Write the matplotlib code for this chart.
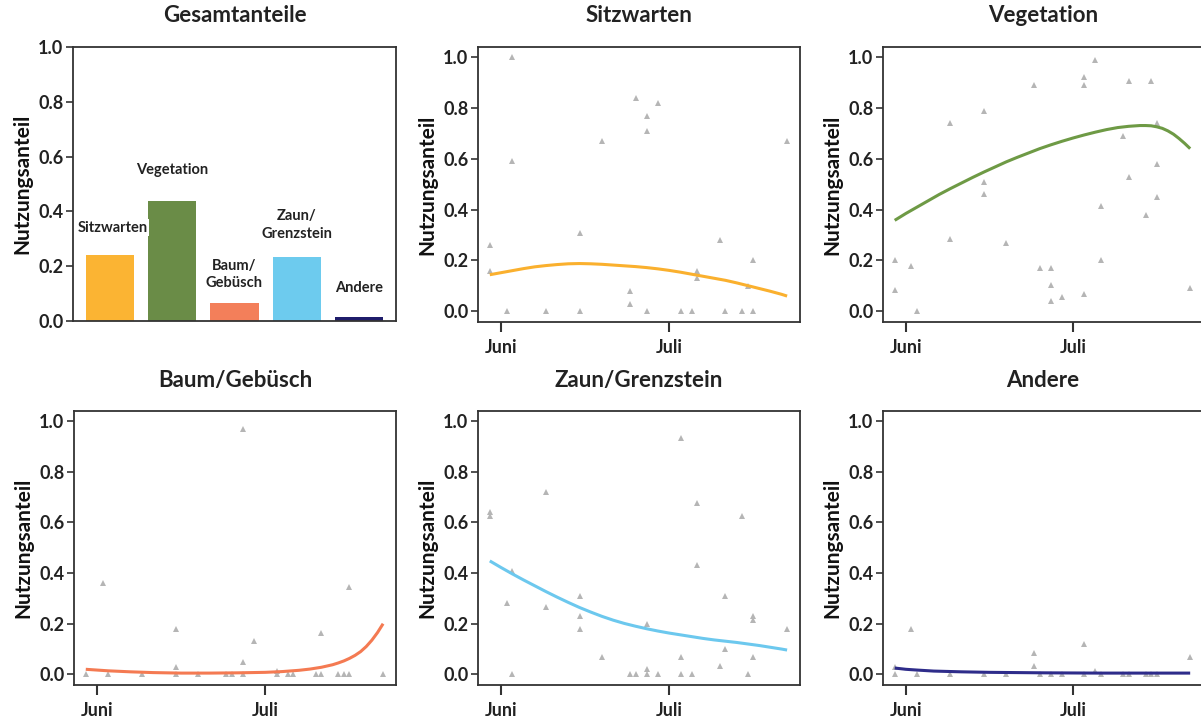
import matplotlib
matplotlib.use("Agg")
import matplotlib.pyplot as plt

plt.rcParams['font.family'] = ['Lato', 'DejaVu Sans']
plt.rcParams['font.weight'] = 'bold'

# overall shares (bar panel)
categories = ['Sitzwarten', 'Vegetation', 'Baum/\nGebüsch', 'Zaun/\nGrenzstein', 'Andere']
totals = [0.241, 0.437, 0.067, 0.235, 0.015]
label_y = [0.34, 0.55, 0.17, 0.35, 0.12]
bar_colors = ['#FBB433', '#6A8C47', '#F37F5A', '#6DCBEE', '#1F1D6B']

# observations: day relative to 1 June, share of use
sitz_x = [-2, -2, 1, 2, 2, 8, 14, 14, 18, 23, 23, 24, 26, 26, 26, 28, 32, 34, 35, 35,
          39, 40, 43, 44, 45, 45, 51]
sitz_y = [0.26, 0.16, 0.0, 1.0, 0.59, 0.0, 0.31, 0.0, 0.67, 0.08, 0.03, 0.84, 0.77, 0.71, 0.0,
          0.82, 0.0, 0.0, 0.16, 0.13, 0.28, 0.0, 0.0, 0.10, 0.20, 0.0, 0.67]
veg_x = [-2, -2, 1, 2, 8, 8, 14, 14, 14, 18, 23, 24, 26, 26, 26, 28, 32, 32, 32, 34, 35, 35,
         39, 40, 40, 43, 44, 45, 45, 45, 51]
veg_y = [0.20, 0.085, 0.18, 0.0, 0.74, 0.285, 0.79, 0.51, 0.46, 0.27, 0.89, 0.17, 0.17, 0.105,
         0.04, 0.055, 0.92, 0.89, 0.07, 0.99, 0.415, 0.20, 0.69, 0.905, 0.53, 0.38, 0.905,
         0.74, 0.58, 0.45, 0.09]
baum_x = [-2, 1, 2, 8, 14, 14, 14, 18, 23, 24, 26, 26, 26, 28, 32, 32, 34, 35, 39, 40, 40,
          43, 44, 45, 45, 51]
baum_y = [0.0, 0.36, 0.0, 0.0, 0.18, 0.03, 0.0, 0.0, 0.0, 0.0, 0.97, 0.05, 0.0, 0.13, 0.015,
          0.0, 0.0, 0.0, 0.0, 0.165, 0.0, 0.0, 0.0, 0.345, 0.0, 0.0]
zaun_x = [-2, -2, 1, 2, 2, 8, 8, 14, 14, 14, 18, 23, 24, 26, 26, 26, 28, 32, 32, 32, 34, 35,
          35, 39, 40, 40, 43, 44, 45, 45, 45, 51]
zaun_y = [0.64, 0.625, 0.28, 0.41, 0.0, 0.72, 0.265, 0.31, 0.23, 0.18, 0.067, 0.0, 0.0, 0.20,
          0.02, 0.0, 0.0, 0.935, 0.067, 0.0, 0.0, 0.675, 0.43, 0.035, 0.31, 0.10, 0.625, 0.0,
          0.23, 0.215, 0.067, 0.18]
and_x = [-2, -2, 1, 2, 8, 14, 18, 23, 23, 24, 26, 28, 32, 32, 34, 35, 39, 40, 43, 44, 45, 51]
and_y = [0.03, 0.0, 0.18, 0.0, 0.0, 0.0, 0.0, 0.085, 0.035, 0.0, 0.0, 0.0, 0.12, 0.0, 0.015,
         0.0, 0.0, 0.0, 0.0, 0.0, 0.0, 0.07]

# fitted curves
sitz_fx = [-2, 0, 2, 4, 6, 8, 10, 12, 14, 16, 18, 20, 22, 24, 26, 28, 30, 32, 34, 36, 38,
           40, 42, 44, 46, 48, 50, 51]
sitz_fy = [0.144, 0.152, 0.160, 0.168, 0.175, 0.180, 0.184, 0.187, 0.188, 0.187, 0.185,
           0.182, 0.179, 0.176, 0.172, 0.167, 0.161, 0.154, 0.146, 0.138, 0.130, 0.122,
           0.112, 0.101, 0.090, 0.079, 0.067, 0.060]
veg_fx = [-2, 0, 2, 4, 6, 8, 10, 12, 14, 16, 18, 20, 22, 24, 26, 28, 30, 32, 34, 36, 38,
          40, 42, 43, 44, 45, 46, 47, 48, 49, 50, 51]
veg_fy = [0.358, 0.385, 0.41, 0.435, 0.46, 0.483, 0.505, 0.527, 0.548, 0.568, 0.588, 0.606,
          0.623, 0.64, 0.655, 0.669, 0.682, 0.694, 0.705, 0.715, 0.723, 0.728, 0.731, 0.731,
          0.73, 0.726, 0.72, 0.71, 0.697, 0.68, 0.661, 0.64]
baum_fx = [-2, 2, 6, 10, 15, 20, 25, 30, 33, 36, 38, 40, 42, 43, 44, 45, 46, 47, 48, 49,
           50, 51]
baum_fy = [0.02, 0.014, 0.010, 0.007, 0.005, 0.005, 0.006, 0.008, 0.011, 0.016, 0.021,
           0.028, 0.038, 0.045, 0.053, 0.063, 0.075, 0.09, 0.11, 0.135, 0.165, 0.20]
zaun_fx = [-2, 0, 2, 4, 6, 8, 10, 12, 14, 16, 18, 20, 22, 24, 26, 28, 30, 32, 34, 36, 38,
           40, 42, 44, 46, 48, 50, 51]
zaun_fy = [0.448, 0.422, 0.397, 0.373, 0.35, 0.327, 0.305, 0.284, 0.264, 0.246, 0.229, 0.214,
           0.201, 0.19, 0.18, 0.171, 0.163, 0.156, 0.149, 0.142, 0.136, 0.131, 0.126, 0.12,
           0.114, 0.107, 0.1, 0.096]
and_fx = [-2, 0, 2, 5, 10, 15, 25, 35, 51]
and_fy = [0.025, 0.02, 0.017, 0.013, 0.01, 0.008, 0.006, 0.005, 0.005]

month_ticks = [0, 30]
month_labels = ['Juni', 'Juli']

W, H = 1201, 717
fig = plt.figure(figsize=(W / 100, H / 100), dpi=100)


def make_axes(left, top, right, bottom):
    return fig.add_axes([left / W, 1 - bottom / H, (right - left) / W, (bottom - top) / H])


def style(ax, title, tpad):
    for s in ax.spines.values():
        s.set_color('#333333')
        s.set_linewidth(1.3)
    ax.set_title(title, fontsize=16, fontweight='bold', color='#222222', pad=tpad)
    ax.set_yticks([0.0, 0.2, 0.4, 0.6, 0.8, 1.0])
    ax.set_yticklabels(['0.0', '0.2', '0.4', '0.6', '0.8', '1.0'])
    ax.tick_params(axis='y', length=5, width=1.2, color='#333333', labelsize=13,
                   labelcolor='#222222', pad=2)
    for lab in ax.get_yticklabels():
        lab.set_fontweight('bold')
    ax.set_ylabel('Nutzungsanteil', fontsize=15, fontweight='bold', color='#111111', labelpad=4)


def scatter_panel(box, title, xs, ys, fx, fy, color, tpad):
    ax = make_axes(*box)
    ax.plot(xs, ys, linestyle='none', marker='^', markersize=4.5, color='#B5B5B5',
            markeredgewidth=0)
    ax.plot(fx, fy, color=color, linewidth=2.2, solid_capstyle='butt')
    ax.set_xlim(-4.1, 53.3)
    ax.set_ylim(-0.042, 1.04)
    style(ax, title, tpad)
    ax.set_xticks(month_ticks)
    ax.set_xticklabels(month_labels)
    ax.tick_params(axis='x', length=7, width=1.5, color='#333333', labelsize=13,
                   labelcolor='#222222', pad=5)
    for lab in ax.get_xticklabels():
        lab.set_fontweight('bold')
    return ax


# bar panel
ax0 = make_axes(73, 47, 396, 321)
pos = list(range(len(categories)))
ax0.bar(pos, totals, width=0.77, color=bar_colors)
ax0.set_xlim(-0.59, 4.59)
ax0.set_ylim(0, 1)
ax0.set_xticks([])
style(ax0, 'Gesamtanteile', 18)
for i, (c, yy) in enumerate(zip(categories, label_y)):
    dx = 0.04 if i == 0 else 0
    ax0.text(i + dx, yy, c, ha='center', va='center', fontsize=10.5, fontweight='bold',
             color='#222222', linespacing=1.3,
             bbox=dict(facecolor='white', edgecolor='none', pad=1) if i == 0 else None)

scatter_panel((478, 47, 800, 322), 'Sitzwarten', sitz_x, sitz_y, sitz_fx, sitz_fy, '#FAB02E', 18)
scatter_panel((883, 47, 1203, 322), 'Vegetation', veg_x, veg_y, veg_fx, veg_fy, '#6E9A45', 18)
scatter_panel((74, 411, 396, 685), 'Baum/Gebüsch', baum_x, baum_y, baum_fx, baum_fy, '#F47A52', 17)
scatter_panel((478, 411, 800, 685), 'Zaun/Grenzstein', zaun_x, zaun_y, zaun_fx, zaun_fy, '#6CC8EE', 17)
scatter_panel((883, 411, 1203, 685), 'Andere', and_x, and_y, and_fx, and_fy, '#2E2C8A', 17)

fig.savefig('out.png', dpi=100, facecolor='white')
